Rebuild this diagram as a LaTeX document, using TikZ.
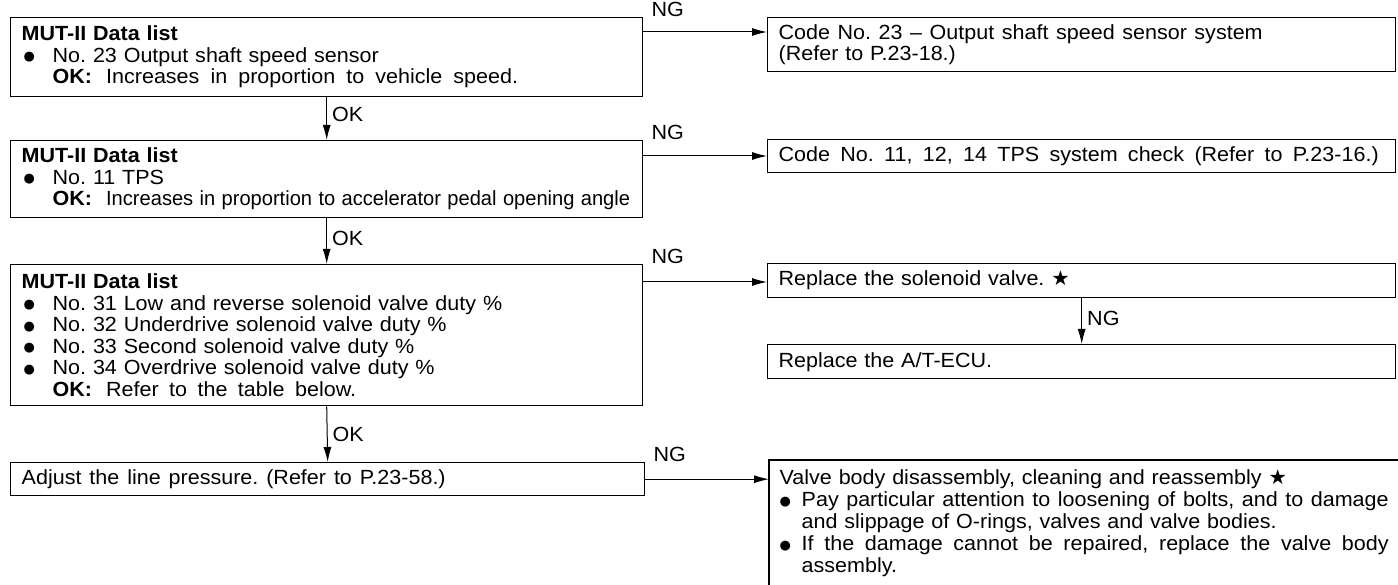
\documentclass[tikz,border=0pt]{standalone}
\usepackage{fontspec}
\setmainfont{Liberation Sans}[FakeStretch=1.05]
\newfontfamily\symf{DejaVu Sans}
\usetikzlibrary{arrows.meta}
\frenchspacing
\newcommand{\bdot}{\raisebox{1.5pt}{\symf\fontsize{13pt}{13pt}\selectfont ●}}
\newcommand{\bitem}[2][31pt]{\par\noindent\hangindent=#1\hangafter=1\makebox[#1][l]{\hspace{2pt}\bdot}#2\par}
\newcommand{\okline}[2][31pt]{\par\noindent\hspace*{#1}\textbf{OK:}\hspace{14pt}#2\par}
\newcommand{\sline}[2]{\hbox to #1{\spaceskip=0.25em plus 1fil\relax #2}}
\newcommand{\starx}{{\symf ★}}
\begin{document}
\begin{tikzpicture}[x=1pt,y=-1pt,
  box/.style={draw, line width=1.4pt, anchor=north west, inner xsep=11pt, inner ysep=0pt,
    align=left, font=\fontsize{20.5pt}{21.5pt}\selectfont},
  arr/.style={line width=1pt, -{Latex[length=15pt,width=8pt]}},
  lbl/.style={font=\fontsize{20.5pt}{21pt}\selectfont, inner sep=0pt}]
\useasboundingbox (0,0) rectangle (1398,585);

% left column
\node[box, text width=610pt, minimum height=79pt] (B1) at (10,17)
  {\noindent\textbf{MUT-II Data list}\bitem{No. 23 Output shaft speed sensor}\okline{\sline{412pt}{Increases in proportion to vehicle speed.}}};
\node[box, text width=610pt, minimum height=77pt] (B2) at (10,140)
  {\noindent\textbf{MUT-II Data list}\bitem{No. 11 TPS}\okline{\resizebox{524pt}{\height}{Increases in proportion to accelerator pedal opening angle}}};
\node[box, text width=610pt, minimum height=141pt] (B3) at (10,264)
  {\noindent\textbf{MUT-II Data list}\bitem{No. 31 Low and reverse solenoid valve duty \%}\bitem{No. 32 Underdrive solenoid valve duty \%}\bitem{No. 33 Second solenoid valve duty \%}\bitem{No. 34 Overdrive solenoid valve duty \%}\okline{\sline{250pt}{Refer to the table below.}}};
\node[box, text width=612pt, minimum height=33pt] (B4) at (10,462)
  {\sline{424pt}{Adjust the line pressure. (Refer to P.23-58.)}};

% right column
\node[box, text width=606pt, minimum height=54pt] (R1) at (767,17)
  {\sline{484pt}{Code No. 23 – Output shaft speed sensor system}\\(Refer to P.23-18.)};
\node[box, text width=606pt, minimum height=33pt] (R2) at (767,139)
  {\sline{600pt}{Code No. 11, 12, 14 TPS system check (Refer to P.23-16.)}};
\node[box, text width=606pt, minimum height=34pt] (R3) at (767,263)
  {Replace the solenoid valve. \starx};
\node[box, text width=606pt, minimum height=34pt] (R4) at (767,344)
  {Replace the A/T-ECU.};
\node[box, draw=none, text width=640pt, minimum height=125pt, inner xsep=10pt,
      font=\fontsize{20.5pt}{22pt}\selectfont] (R5) at (769,460)
  {\noindent Valve body disassembly, cleaning and reassembly \starx\par
   \noindent\makebox[22pt][l]{\bdot}\sline{587pt}{Pay particular attention to loosening of bolts, and to damage}\par
   \noindent\hspace*{22pt}and slippage of O-rings, valves and valve bodies.\par
   \noindent\makebox[22pt][l]{\bdot}\sline{587pt}{If the damage cannot be repaired, replace the valve body}\par
   \noindent\hspace*{22pt}assembly.};
\draw[line width=1.4pt] (R5.south west) -- (R5.north west) -- (R5.north east);

% NG connectors
\coordinate (a1) at ([yshift=-15pt]B1.north east);
\coordinate (a2) at ([yshift=-16pt]B2.north east);
\coordinate (a3) at ([yshift=-18pt]B3.north east);
\draw[arr] (a1) -- (a1 -| R1.west);
\draw[arr] (a2) -- (a2 -| R2.west);
\draw[arr] (a3) -- (a3 -| R3.west);
\draw[arr] (B4.east) -- (B4.east -| R5.west);
\node[lbl, anchor=south west] (n1) at ([xshift=8pt]B1.north east) {NG};
\node[lbl, anchor=south west] (n2) at ([xshift=8pt]B2.north east) {NG};
\node[lbl, anchor=south west] (n3) at ([xshift=8pt]B3.north east) {NG};
\node[lbl, anchor=south west] (n4) at ([xshift=8pt]B4.north east) {NG};

% OK connectors
\draw[arr] (B1.south) -- node[lbl, right=5pt, pos=0.4] (o1) {OK} (B2.north);
\draw[arr] (B2.south) -- node[lbl, right=5pt, pos=0.45] (o2) {OK} (B3.north);
\draw[arr] (B3.south) -- node[lbl, right=5pt, pos=0.5] (o3) {OK} (B4.north);
\draw[arr] (R3.south) -- node[lbl, right=5pt, pos=0.45] (n5) {NG} (R4.north);
\end{tikzpicture}
\end{document}
